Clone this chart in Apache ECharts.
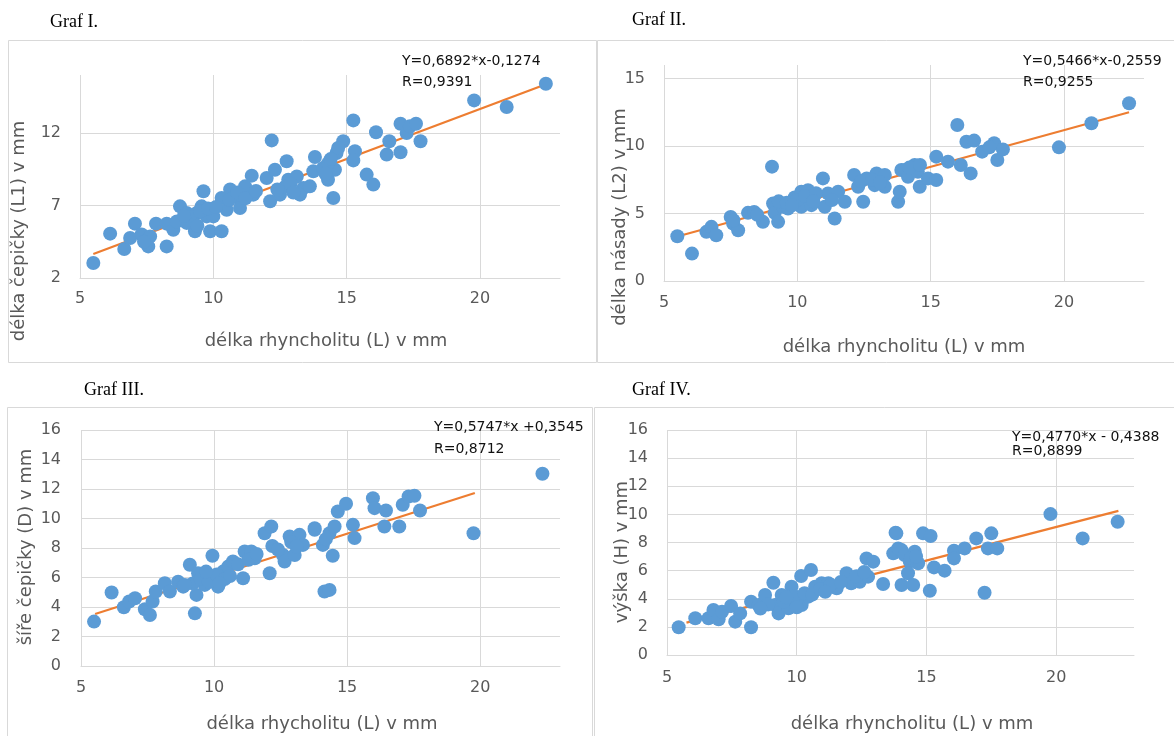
<!DOCTYPE html>
<html>
<head>
<meta charset="utf-8">
<script src="https://cdn.jsdelivr.net/npm/echarts@6/dist/echarts.min.js"></script>
<style>
html,body{margin:0;padding:0;background:#fff;}
#c{width:1174px;height:736px;}
</style>
</head>
<body>
<div id="c"></div>
<script>
// ---- Data ----
const pointsI = [
[5.5,3.03],[6.13,5.06],[6.66,4.0],[7.06,5.75],[6.88,4.76],[7.31,5.0],[7.56,4.18],[7.63,4.87],[7.85,5.75],
[8.25,4.18],[8.25,5.75],[8.5,5.33],[8.75,6.94],[8.63,5.9],[9.0,6.48],[9.13,6.02],[9.31,5.22],[9.38,6.48],
[9.63,7.98],[9.56,6.94],[9.75,6.25],[9.88,5.22],[10.0,6.25],[10.31,5.22],[10.31,7.52],[10.63,8.1],[10.5,6.71],
[10.88,7.63],[11.0,6.83],[11.19,8.32],[11.44,9.06],[11.5,7.75],[12.13,7.29],[12.19,11.49],[12.0,8.9],[12.31,9.47],
[12.5,7.75],[12.75,10.05],[12.81,8.78],[13.13,9.0],[13.38,8.2],[13.25,7.75],[13.81,10.34],[13.75,9.36],
[13.62,8.32],[14.12,9.59],[14.3,8.78],[14.5,7.52],[14.56,9.47],[14.62,10.62],[14.87,11.43],[14.68,10.97],
[15.25,12.87],[15.31,10.74],[15.25,10.11],[15.75,9.13],[16.0,8.44],[16.1,12.05],[16.5,10.51],[16.6,11.43],
[17.02,10.67],[17.02,12.64],[17.25,12.0],[17.37,12.46],[17.6,12.64],[17.77,11.43],[19.78,14.25],[21.0,13.79],[22.47,15.4],
[9.2,6.2],[9.5,6.6],[9.8,6.8],[10.1,6.9],[9.0,5.8],[9.4,5.6],[10.6,7.4],[10.9,7.9],[11.2,7.5],[12.7,8.3],
[12.9,8.5],[13.0,7.9],[14.3,9.9],[14.4,10.2],[14.2,9.2],[7.4,4.5],[8.9,6.3],[11.6,8.0],[12.4,8.1]
];
const pointsII = [
[5.5,3.32],[6.05,2.03],[6.59,3.64],[6.78,4.01],[6.96,3.39],[7.5,4.75],[7.59,4.26],[7.78,3.76],[8.15,5.05],
[8.38,5.12],[8.71,4.38],[9.05,8.47],[9.09,5.74],[9.15,5.05],[9.28,4.38],[9.46,5.5],[9.65,5.37],[9.9,6.19],
[10.15,6.61],[10.4,6.73],[10.15,5.5],[10.53,5.62],[10.96,7.6],[11.15,6.49],[11.03,5.5],[11.4,4.63],[11.53,6.61],
[11.78,5.87],[12.13,7.85],[12.28,6.98],[12.47,5.87],[12.6,7.6],[12.97,7.97],[13.28,7.85],[13.28,6.98],[12.9,7.1],
[13.9,8.22],[13.78,5.87],[13.84,6.61],[14.03,8.22],[14.15,7.72],[14.4,8.59],[14.59,6.98],[14.52,8.09],[14.9,7.6],
[15.21,9.21],[15.21,7.48],[15.65,8.84],[16.0,11.56],[16.13,8.59],[16.34,10.32],[16.63,10.4],[16.5,7.97],
[16.93,9.58],[17.38,10.2],[17.5,8.96],[17.71,9.75],[19.81,9.9],[21.03,11.68],[22.44,13.17],
[8.5,4.9],[9.3,5.9],[9.6,5.8],[10.0,6.0],[10.3,6.3],[10.7,6.5],[11.3,6.0],[12.4,7.4],[12.8,7.5],[13.1,7.3],
[14.2,8.4],[14.6,8.6],[9.8,5.6],[10.6,5.9],[7.6,4.5],[17.2,9.9]
];
const pointsIII = [
[5.49,3.01],[6.15,4.98],[6.61,3.98],[6.81,4.37],[7.03,4.59],[7.4,3.85],[7.59,3.46],[7.69,4.37],[7.81,5.05],
[8.15,5.61],[8.34,5.05],[8.65,5.72],[8.84,5.38],[9.09,6.86],[9.28,3.57],[9.34,4.82],[9.4,6.29],[9.65,5.5],
[9.94,7.47],[9.96,6.06],[10.15,5.38],[10.34,6.4],[10.53,6.74],[10.71,7.08],[11.09,5.95],[11.15,7.76],[11.4,7.76],
[11.53,7.31],[11.9,9.0],[12.15,9.46],[12.09,6.29],[12.19,8.14],[12.59,7.53],[12.65,7.08],[12.84,8.78],[13.03,7.53],
[13.21,8.89],[13.34,8.21],[13.78,9.34],[13.78,9.23],[14.09,8.21],[14.34,9.0],[14.53,9.46],[14.46,7.47],[14.15,5.05],
[14.34,5.16],[14.65,10.47],[14.96,11.0],[15.22,9.57],[15.28,8.67],[15.97,11.38],[16.03,10.7],[16.46,10.54],
[16.4,9.46],[16.96,9.46],[17.09,10.93],[17.31,11.49],[17.53,11.54],[17.74,10.54],[19.75,9.0],[22.34,13.03],
[9.2,5.6],[9.5,5.9],[9.8,5.7],[10.1,6.2],[10.4,5.9],[10.6,6.1],[10.9,6.9],[11.3,7.2],[11.6,7.6],[12.9,8.4],
[13.1,8.1],[8.9,5.5],[9.7,6.4],[10.2,5.6],[12.4,7.9],[14.2,8.6]
];
const pointsIV = [
[5.45,1.97],[6.09,2.61],[6.6,2.61],[6.79,3.2],[6.99,2.54],[7.12,3.08],[7.47,3.48],[7.63,2.37],[7.82,2.96],
[8.24,3.79],[8.24,1.97],[8.53,3.55],[8.78,4.27],[9.1,5.14],[9.17,3.55],[9.3,2.96],[9.42,4.27],[9.68,3.32],
[9.8,4.86],[9.94,3.79],[10.17,5.62],[10.55,6.04],[10.19,3.55],[10.45,4.15],[10.71,4.86],[10.96,5.1],[11.22,5.1],
[11.54,4.74],[11.92,5.81],[12.1,5.1],[12.43,5.21],[12.69,6.87],[12.95,6.64],[12.75,5.57],[13.33,5.05],[13.81,8.7],
[13.72,7.23],[14.04,7.46],[14.04,4.98],[13.84,8.65],[13.91,7.58],[14.16,7.11],[14.36,6.64],[14.29,5.81],[14.55,7.35],
[14.68,6.52],[14.49,4.98],[14.87,8.65],[15.16,8.46],[15.13,4.57],[15.29,6.23],[15.7,6.0],[16.06,7.42],[16.06,6.87],
[16.47,7.58],[16.92,8.29],[17.24,4.43],[17.5,8.65],[17.37,7.58],[17.73,7.58],[19.78,10.02],[21.02,8.29],[22.37,9.48],
[8.9,3.6],[9.5,3.8],[9.9,4.2],[10.3,4.4],[10.6,4.3],[10.9,4.7],[11.3,5.0],[11.7,5.2],[12.3,5.6],[12.6,5.9],
[9.6,4.1],[8.6,3.3],[10.0,3.4],[14.4,6.9],[14.6,7.0],[11.1,4.5]
];
// trend line end points as drawn in the reference
const trendI = [[5.5,3.66],[22.4,15.31]];
const trendII = [[5.6,3.35],[22.44,12.5]];
const trendIII = [[5.53,3.53],[19.8,11.73]];
const trendIV = [[5.75,2.3],[22.4,10.25]];
// texts
const panelTitles = ['Graf I.','Graf II.','Graf III.','Graf IV.'];
const yTitles = ['délka čepičky (L1) v mm','délka násady (L2) v mm','šíře čepičky (D) v mm','výška (H) v mm'];
const xTitles = ['délka rhyncholitu (L) v mm','délka rhyncholitu (L) v mm','délka rhycholitu (L) v mm','délka rhyncholitu (L) v mm'];
const equations = ['Y=0,6892*x-0,1274','Y=0,5466*x-0,2559','Y=0,5747*x +0,3545','Y=0,4770*x - 0,4388'];
const rValues = ['R=0,9391','R=0,9255','R=0,8712','R=0,8899'];
// y axis ranges [min, max, interval]
const yRanges = [[2,16,5],[0,16,5],[0,16,2],[0,16,2]];
const xRange = [5,23,5];

// ---- Layout ----
const grids = [
  {left:80, top:75, width:480, height:203},
  {left:664, top:65, width:480, height:216},
  {left:81, top:430, width:479, height:236},
  {left:667, top:430, width:467, height:225}
];
const frames = [[8,40,588,322],[597,40,590,322],[7,407,585,340],[594,407,590,340]];
const titlePos = [[50,22],[632,20],[84,390],[632,390]];
const yTitlePos = [[19,231],[620,217],[26,547],[622,552]];
const xTitlePos = [[326,341],[904,347],[322,724],[912,724]];
const eqPos = [[402,61,82],[1023,61,82],[434,427,449],[1012,437,451]];
const yLabelMargin = [19,19,20,19];
const xLabelMargin = [13,14,14,15];

const gridColor = '#d9d9d9';
const labelColor = '#595959';
const FONT = 'DejaVu Sans';

const xAxes = grids.map((g,i)=>({
  type:'value', gridIndex:i, min:xRange[0], max:xRange[1], interval:xRange[2],
  axisLine:{show:true,lineStyle:{color:gridColor}},
  axisTick:{show:false},
  axisLabel:{color:labelColor,fontFamily:FONT,fontSize:16,margin:xLabelMargin[i],showMaxLabel:false},
  splitLine:{show:true,showMaxLine:false,lineStyle:{color:gridColor}}
}));
const yAxes = grids.map((g,i)=>({
  type:'value', gridIndex:i, min:yRanges[i][0], max:yRanges[i][1], interval:yRanges[i][2],
  axisLine:{show:false}, axisTick:{show:false},
  axisLabel:{color:labelColor,fontFamily:FONT,fontSize:16,margin:yLabelMargin[i],showMaxLabel:i>=2},
  splitLine:{show:true,showMaxLine:i>=2,lineStyle:{color:gridColor}}
}));

const pts = [pointsI,pointsII,pointsIII,pointsIV];
const trends = [trendI,trendII,trendIII,trendIV];
const series = [];
for(let i=0;i<4;i++){
  series.push({type:'line', xAxisIndex:i, yAxisIndex:i, data:trends[i], showSymbol:false, symbol:'none',
    lineStyle:{color:'#ED7D31',width:2.2}, z:1, silent:true, animation:false});
  series.push({type:'scatter', xAxisIndex:i, yAxisIndex:i, data:pts[i], symbolSize:14,
    itemStyle:{color:'#5B9BD5',opacity:1}, z:2, animation:false});
}

const graphic = [];
for(let i=0;i<4;i++){
  const f = frames[i];
  graphic.push({type:'rect', shape:{x:f[0]+0.5,y:f[1]+0.5,width:f[2],height:f[3]}, style:{fill:'none',stroke:gridColor,lineWidth:1}, z:-10});
  graphic.push({type:'text', x:titlePos[i][0], y:titlePos[i][1], style:{text:panelTitles[i], font:'18px "Liberation Serif"', fill:'#000', textAlign:'left', textVerticalAlign:'middle'}});
  graphic.push({type:'text', x:yTitlePos[i][0], y:yTitlePos[i][1], rotation:Math.PI/2, style:{text:yTitles[i], font:'18px "'+FONT+'"', fill:labelColor, textAlign:'center', textVerticalAlign:'middle'}});
  graphic.push({type:'text', x:xTitlePos[i][0], y:xTitlePos[i][1], style:{text:xTitles[i], font:'18px "'+FONT+'"', fill:labelColor, textAlign:'center', textVerticalAlign:'middle'}});
  graphic.push({type:'text', x:eqPos[i][0], y:eqPos[i][1], style:{text:equations[i], font:'14px "'+FONT+'"', fill:'#111', textAlign:'left', textVerticalAlign:'middle'}, z:10});
  graphic.push({type:'text', x:eqPos[i][0], y:eqPos[i][2], style:{text:rValues[i], font:'14px "'+FONT+'"', fill:'#111', textAlign:'left', textVerticalAlign:'middle'}, z:10});
}

const chart = echarts.init(document.getElementById('c'), null, {renderer:'canvas'});
chart.setOption({
  animation:false,
  backgroundColor:'#fff',
  grid:grids,
  xAxis:xAxes,
  yAxis:yAxes,
  series:series,
  graphic:graphic
});
</script>
</body>
</html>
